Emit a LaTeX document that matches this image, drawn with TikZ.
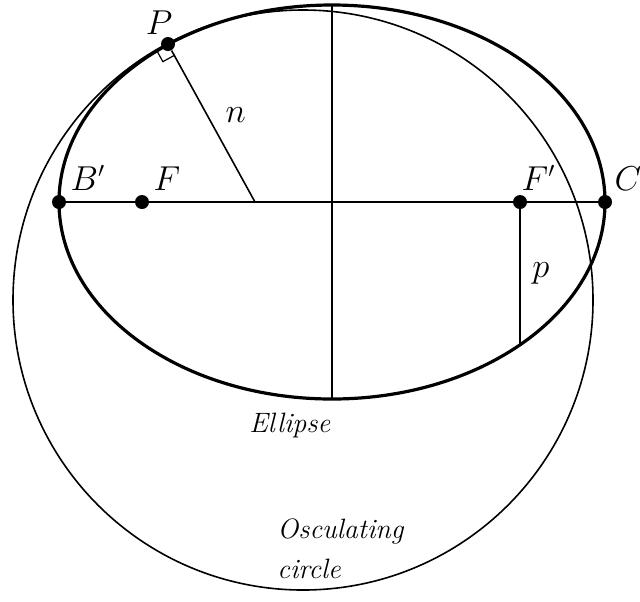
\documentclass[tikz,border=0pt]{standalone}
\usepackage{amsmath}
\usetikzlibrary{positioning,calc}
\begin{document}
\begin{tikzpicture}[x=0.5pt,y=-0.5pt,
  dot/.style={circle,fill,inner sep=0pt,minimum size=7pt},
  lbl/.style={font=\fontsize{16}{18}\selectfont,inner sep=1pt},
  txt/.style={font=\fontsize{14}{20}\selectfont\itshape,align=left,inner sep=0pt}]
\useasboundingbox (0,0) rectangle (640,601);
\coordinate (O) at (332,202);
\coordinate (N) at (332,5);
\coordinate (S) at (332,399);
\coordinate (K) at (303,300);
\coordinate (Q) at (255,202);
\coordinate (L) at (520,344);
\draw[line width=1.6pt] (O) ellipse [x radius=273, y radius=197];
\draw[line width=0.8pt] (K) circle [radius=290];
\node[dot] (P) at (168,44) {};
\node[dot] (B) at (59,202) {};
\node[dot] (F) at (142,202) {};
\node[dot] (Fp) at (520,202) {};
\node[dot] (C) at (605,202) {};
\draw[thick] (B) -- (C);
\draw[thick] (N) -- (S);
\draw[thick] (P) -- (Q);
\draw[semithick] (Fp) -- (L);
\coordinate (Pa) at ($(P)!6.5pt!(Q)$);
\coordinate (Pb) at ($(P)!6.5pt!-90:(Q)$);
\draw[semithick] (Pa) -- ($(Pa)+(Pb)-(P)$) -- (Pb);
\node[lbl,above left=1pt and -6pt of P] {$P$};
\node[lbl,above right=2pt and 2pt of B] {$B'$};
\node[lbl,above right=2pt and 2pt of F] {$F$};
\node[lbl,above right=2pt and -3pt of Fp] {$F'$};
\node[lbl,above right=2pt and 1pt of C] {$C'$};
\node[lbl,right=8pt of $(P)!0.45!(Q)$] {$n$};
\node[lbl,right=5pt of $(Fp)!0.5!(L)$] {$p$};
\node[txt,anchor=north west] (E) at (249,413) {Ellipse};
\node[txt,anchor=north west] (OC) at (277,518) {Osculating\\circle};
\end{tikzpicture}
\end{document}
